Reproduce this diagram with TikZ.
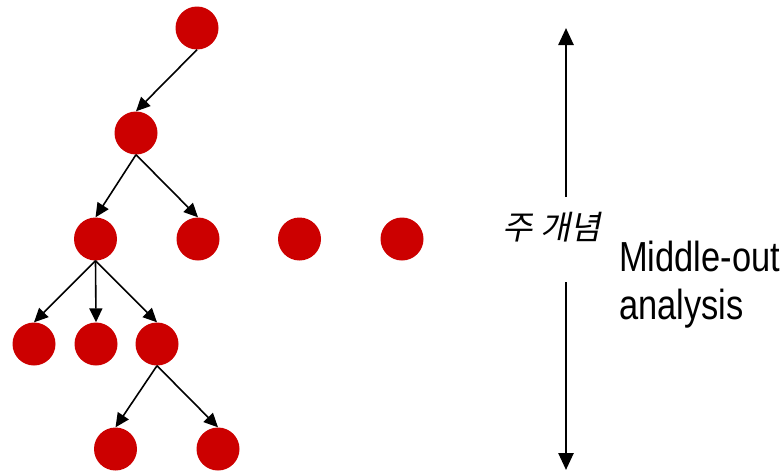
\documentclass[tikz,border=0pt]{standalone}
\usepackage{fontspec}
\setmainfont{Liberation Sans}
\newfontfamily\krfont[FakeSlant=0.2]{Noto Sans CJK KR}
\newfontfamily\narrowfont[FakeStretch=0.82]{Liberation Sans}
\usetikzlibrary{arrows.meta}
\definecolor{dotred}{HTML}{CC0000}
\begin{document}
\begin{tikzpicture}[x=1pt,y=-1pt,
  dot/.style={circle,fill=dotred,draw=none,minimum size=43pt,inner sep=0pt},
  edge/.style={line width=1.6pt,-{Triangle[length=14pt,width=13pt]}},
  bigarrow/.style={line width=2.6pt,-{Triangle[length=17pt,width=15pt]}}]
\useasboundingbox (0,0) rectangle (784,471);
\node[dot] (n1) at (197,28) {};
\node[dot] (n2) at (136,133) {};
\node[dot] (n3) at (95.5,239) {};
\node[dot] (n4) at (198,239) {};
\node[dot] (n5) at (299.5,239) {};
\node[dot] (n6) at (402,239) {};
\node[dot] (n7) at (34,344) {};
\node[dot] (n8) at (96,344) {};
\node[dot] (n9) at (157,344) {};
\node[dot] (n10) at (115.5,449) {};
\node[dot] (n11) at (218,449) {};
\draw[edge] (n1.south) -- (n2.north);
\draw[edge] (n2.south) -- (n3.north);
\draw[edge] (n2.south) -- (n4.north);
\draw[edge] (n3.south) -- (n7.north);
\draw[edge] (n3.south) -- (n8.north);
\draw[edge] (n3.south) -- (n9.north);
\draw[edge] (n9.south) -- (n10.north);
\draw[edge] (n9.south) -- (n11.north);
\coordinate (upA) at (566,197);
\coordinate (upB) at (566,28);
\coordinate (dnA) at (566,282);
\coordinate (dnB) at (566,470);
\draw[bigarrow] (upA) -- (upB);
\draw[bigarrow] (dnA) -- (dnB);
\node[inner sep=0pt,anchor=center,font=\fontsize{33}{36}\selectfont\krfont] (kr) at (552,227) {주 개념};
\node[inner sep=0pt,anchor=north west,align=left,font=\fontsize{42}{48}\selectfont\narrowfont] (mo) at (619,240.5) {Middle-out\\analysis};
\end{tikzpicture}
\end{document}
